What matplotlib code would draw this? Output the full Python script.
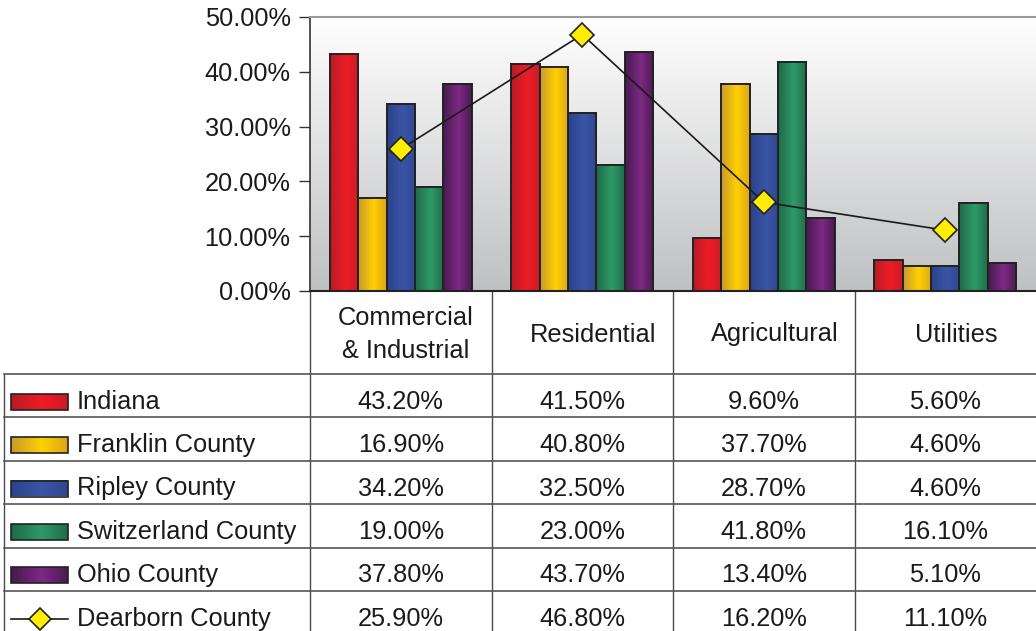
import numpy as np
import matplotlib.pyplot as plt
from matplotlib.colors import LinearSegmentedColormap
from matplotlib.patches import Rectangle

plt.rcParams['font.family'] = ['Liberation Sans', 'DejaVu Sans']

categories = ['Commercial\n& Industrial', 'Residential', 'Agricultural', 'Utilities']
series_names = ['Indiana', 'Franklin County', 'Ripley County', 'Switzerland County', 'Ohio County']
indiana = [43.2, 41.5, 9.6, 5.6]
franklin = [16.9, 40.8, 37.7, 4.6]
ripley = [34.2, 32.5, 28.7, 4.6]
switzerland = [19.0, 23.0, 41.8, 16.1]
ohio = [37.8, 43.7, 13.4, 5.1]
dearborn = [25.9, 46.8, 16.2, 11.1]
bar_values = [indiana, franklin, ripley, switzerland, ohio]

# left edge, middle, right edge of each bar's shading
shades = [
    ('#b81c27', '#ee1c25', '#cc1b25'),
    ('#c99a2e', '#ffd000', '#dca51c'),
    ('#2b438c', '#3a55a6', '#2f4892'),
    ('#1e6a48', '#2e9a68', '#1f6c4a'),
    ('#481a50', '#7c2a83', '#4c1a54'),
]
cmaps = [LinearSegmentedColormap.from_list('s%d' % i, [(0, a), (0.55, b), (1, c)])
         for i, (a, b, c) in enumerate(shades)]
ramp = np.linspace(0, 1, 64)[np.newaxis, :]

W, H = 1036, 631
fig = plt.figure(figsize=(W / 100, H / 100), dpi=100)

# canvas for the data table, in pixel units
tab = fig.add_axes([0, 0, 1, 1])
tab.set_xlim(0, W)
tab.set_ylim(H, 0)
tab.axis('off')

x_left, y_top, y_bot = 310, 17, 291
ax = fig.add_axes([x_left / W, 1 - y_bot / H, (W - x_left) / W, (y_bot - y_top) / H])

# plot area background: white fading to grey
bg = LinearSegmentedColormap.from_list('bg', ['#bfc0c2', '#ffffff'])
ax.imshow(np.linspace(1, 0, 256)[:, np.newaxis], extent=[-0.5, 3.5, 0, 50],
          cmap=bg, aspect='auto', zorder=0)

n = len(bar_values)
w = 0.156
offsets = (np.arange(n) - (n - 1) / 2) * w
for i, vals in enumerate(bar_values):
    for j, v in enumerate(vals):
        x0 = j + offsets[i] - w / 2
        ax.imshow(ramp, extent=[x0, x0 + w, 0, v], cmap=cmaps[i], aspect='auto', zorder=2)
    ax.bar(np.arange(len(vals)) + offsets[i], vals, w, facecolor='none',
           edgecolor='#222222', linewidth=1.4, zorder=3)

ax.plot(range(len(dearborn)), dearborn, color='#1a1a1a', lw=1.2, marker='D', ms=12,
        mfc='#ffee00', mec='#222222', mew=1.2, zorder=4, clip_on=False)

ax.set_xlim(-0.5, 3.5)
ax.set_ylim(0, 50)
ax.set_xticks([])
ax.set_yticks(range(0, 51, 10))
ax.set_yticklabels(['%.2f%%' % t for t in range(0, 51, 10)], fontsize=18.3, color='#1a1a1a')
ax.tick_params(axis='y', length=8, width=1, pad=6, color='#333333')
ax.spines['left'].set_color('#333333')
ax.spines['left'].set_linewidth(1.2)
ax.spines['bottom'].set_color('#222222')
ax.spines['bottom'].set_linewidth(1.5)
ax.spines['top'].set_color('#9a9a9a')
ax.spines['top'].set_linewidth(1.5)
ax.spines['right'].set_visible(False)

# data table under the chart
col_w = (W - x_left) / len(categories)
edges = [x_left + col_w * k for k in range(len(categories) + 1)]
row_h = 43.4
row0 = 374
rows = n + 1
line_kw = dict(color='#4a4a4a', lw=1)
for xe in edges[:-1]:
    tab.plot([xe, xe], [y_bot, row0 + rows * row_h], **line_kw)
tab.plot([4, 4], [row0, row0 + rows * row_h], **line_kw)
for k in range(rows):
    yy = row0 + k * row_h
    tab.plot([4, W], [yy, yy], color='#555555', lw=1.2)

for j, cat in enumerate(categories):
    dx = 5 if '\n' in cat else 11
    tab.text(edges[j] + col_w / 2 + dx, (y_bot + row0) / 2 + 2, cat, ha='center', va='center',
             fontsize=18.3, color='#1a1a1a', linespacing=1.45)

all_rows = bar_values + [dearborn]
all_names = series_names + ['Dearborn County']
for r, (name, vals) in enumerate(zip(all_names, all_rows)):
    yc = row0 + r * row_h + row_h / 2 + 6
    if r < n:
        tab.imshow(ramp, extent=[11, 68, yc + 8, yc - 8], cmap=cmaps[r], aspect='auto', zorder=2)
        tab.add_patch(Rectangle((11, yc - 8), 57, 16, facecolor='none', edgecolor='#222222',
                                lw=1.2, zorder=3))
    else:
        tab.plot([11, 68], [yc, yc], color='#1a1a1a', lw=1.2)
        tab.plot([40], [yc], marker='D', ms=11, mfc='#ffee00', mec='#222222', mew=1.2)
    tab.text(77, yc, name, ha='left', va='center', fontsize=18.3, color='#1a1a1a')
    for j, v in enumerate(vals):
        tab.text(edges[j] + col_w / 2, yc, '%.2f%%' % v, ha='center', va='center',
                 fontsize=18.3, color='#1a1a1a')
tab.set_xlim(0, W)
tab.set_ylim(H, 0)

fig.savefig('out.png', dpi=100)
